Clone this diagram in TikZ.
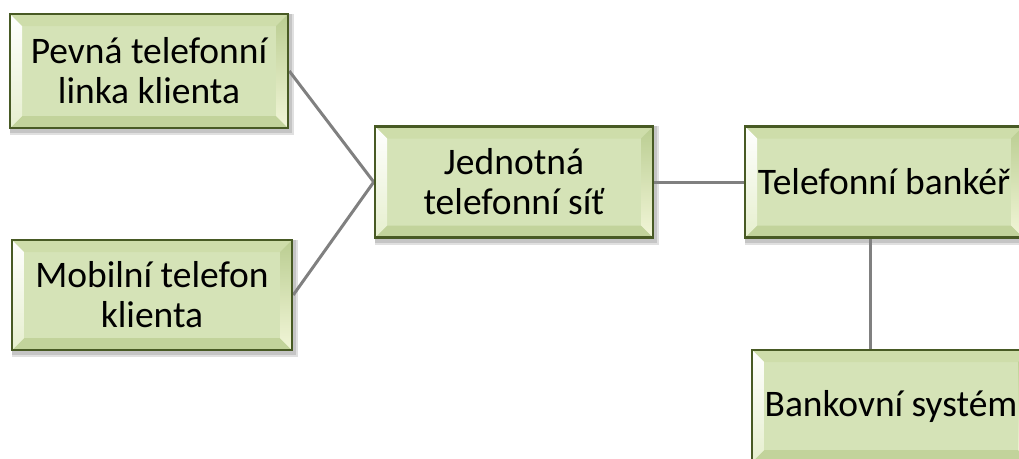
\documentclass[tikz,border=0pt]{standalone}
\usepackage{fontspec}
\setmainfont{Carlito}
\usetikzlibrary{backgrounds}
\definecolor{face}{RGB}{213,227,183}
\definecolor{boxedge}{RGB}{72,90,36}
\definecolor{topbev}{RGB}{206,221,170}
\definecolor{botbev}{RGB}{194,211,155}
\definecolor{rightbevtop}{RGB}{186,205,145}
\definecolor{rightbevbot}{RGB}{242,246,216}
\definecolor{leftbevbot}{RGB}{230,239,206}
\definecolor{conn}{RGB}{128,128,128}
\tikzset{
  bevbox/.style={draw=boxedge, line width=2.5pt, fill=face, inner sep=0pt,
    align=center, font=\fontsize{37.5}{40}\selectfont,
    path picture={
      \path (path picture bounding box.north west) coordinate (pnw)
            (path picture bounding box.north east) coordinate (pne)
            (path picture bounding box.south west) coordinate (psw)
            (path picture bounding box.south east) coordinate (pse);
      \fill[topbev] (pnw) -- (pne) -- ([xshift=-12pt,yshift=-12pt]pne) -- ([xshift=12pt,yshift=-12pt]pnw) -- cycle;
      \fill[botbev] (psw) -- (pse) -- ([xshift=-12pt,yshift=12pt]pse) -- ([xshift=12pt,yshift=12pt]psw) -- cycle;
      \shade[top color=white, bottom color=leftbevbot] (pnw) -- ([xshift=12pt,yshift=-12pt]pnw) -- ([xshift=12pt,yshift=12pt]psw) -- (psw) -- cycle;
      \shade[top color=rightbevtop, bottom color=rightbevbot] (pne) -- ([xshift=-12pt,yshift=-12pt]pne) -- ([xshift=-12pt,yshift=12pt]pse) -- (pse) -- cycle;
    }},
  connector/.style={draw=conn, line width=3pt},
  boxshadow/.style={fill=black, opacity=0.12}
}
\begin{document}
\begin{tikzpicture}[x=1pt,y=-1pt]
\useasboundingbox (0,0) rectangle (1019,458);
\node[bevbox, minimum width=278pt, minimum height=114pt] (p1) at (149,71) {Pevná telefonní\\linka klienta};
\node[bevbox, minimum width=280pt, minimum height=110pt] (p2) at (152,295) {Mobilní telefon\\klienta};
\node[bevbox, minimum width=278pt, minimum height=111pt] (hub) at (514,182) {Jednotná\\telefonní síť};
\node[bevbox, minimum width=278pt, minimum height=111pt] (bank) at (884,182) {Telefonní bankéř};
\node[bevbox, minimum width=278pt, minimum height=112pt] (sys) at (891,406) {Bankovní systém};
\begin{scope}[on background layer]
  \foreach \n in {p1,p2,hub,bank,sys}{
    \fill[boxshadow] ([xshift=1pt,yshift=-1pt]\n.north west) rectangle ([xshift=5pt,yshift=-6pt]\n.south east);
    \fill[boxshadow] ([xshift=1pt,yshift=-1pt]\n.north west) rectangle ([xshift=3pt,yshift=-4pt]\n.south east);
  }
  \draw[connector] (p1.east) -- (hub.west);
  \draw[connector] (p2.east) -- (hub.west);
  \draw[connector] (hub.east) -- (bank.west);
  \draw[connector] ([xshift=-14pt]bank.south) -- ([xshift=-14pt]bank.south |- sys.north);
\end{scope}
\end{tikzpicture}
\end{document}
